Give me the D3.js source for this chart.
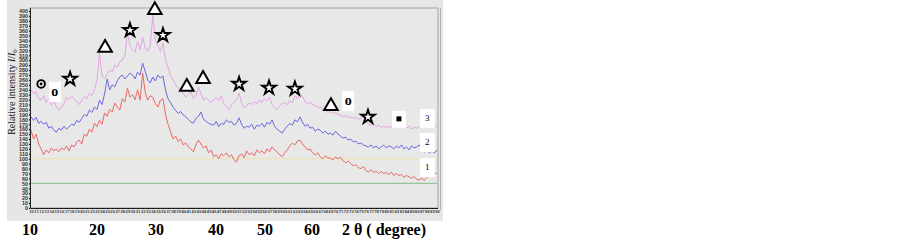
<!doctype html>
<html lang="en">
<head>
<meta charset="utf-8">
<script src="https://d3js.org/d3.v7.min.js"></script>
<style>
  body { margin: 0; background: #fff; }
  svg { display: block; }
</style>
</head>
<body>
<svg width="903" height="241"></svg>
<script>
// 2 theta scan grid, 0.5 degree step
var angles = d3.range(10, 90.01, 0.5);

// relative intensity, sample 1 (red)
var series1 = [
  158,140,150,130,120,108,118,112,122,116,
  120,114,122,118,126,116,128,124,134,138,
  130,150,146,160,154,172,165,178,170,193,
  186,200,195,213,205,199,222,215,243,225,
  230,220,240,219,274,235,219,228,225,212,
  205,219,222,190,170,155,140,146,135,140,
  128,132,124,120,114,128,138,130,122,126,
  112,118,104,108,100,110,106,112,104,108,
  98,93,106,110,102,116,108,112,106,118,
  112,116,110,120,114,124,118,114,108,104,
  112,118,126,132,128,136,138,130,124,118,
  120,112,108,112,104,100,106,102,101,98,
  104,100,103,96,92,95,90,86,88,82,
  80,84,76,73,78,72,75,70,74,70,
  72,68,73,66,70,66,68,62,66,63,
  60,64,58,57,61,56,62,66,64,70,
  71
];
// sample 2 (blue)
var series2 = [
  185,178,184,172,176,170,174,162,166,158,
  154,162,158,166,160,165,170,168,178,174,
  182,190,186,199,194,205,200,219,210,232,
  262,240,250,246,258,266,270,262,268,274,
  270,262,276,270,294,278,260,254,266,258,
  270,264,268,240,222,214,205,198,192,196,
  189,185,180,175,172,182,186,195,180,176,
  172,170,168,176,165,172,170,179,174,176,
  168,172,183,170,162,166,164,170,160,168,
  166,172,164,174,170,179,166,160,156,152,
  160,166,172,168,179,175,185,174,166,170,
  162,164,156,160,158,152,156,150,152,148,
  156,150,146,142,144,138,140,134,136,130,
  132,128,126,124,128,122,126,120,124,128,
  122,126,124,120,126,122,128,120,124,118,
  126,122,124,128,118,114,118,112,116,112,
  118
];
// sample 3 (pink)
var series3 = [
  240,232,236,222,219,228,214,222,208,216,
  206,199,204,212,225,220,228,222,216,210,
  219,226,222,233,228,240,260,314,268,262,
  272,280,276,290,286,297,300,310,355,330,
  321,316,338,322,347,325,318,330,392,341,
  330,318,335,300,286,268,260,250,244,236,
  233,225,230,236,222,228,246,232,219,224,
  218,214,220,224,219,228,212,206,199,210,
  214,220,233,212,204,208,213,210,216,212,
  220,214,222,218,225,210,204,200,208,212,
  214,210,218,214,228,222,233,226,216,212,
  214,210,208,204,205,200,198,194,196,192,
  194,190,188,186,188,184,185,182,184,180,
  182,188,178,170,168,170,166,168,164,166,
  163,166,164,168,162,166,164,168,162,166,
  160,164,162,165,168,170,166,164,168,166,
  165
];

var refLines = [100, 50];

// phase markers: [2theta, intensity, kind]
var markers = [
  [12.0, 252, "ring"], [14.7, 236, "o"], [17.7, 264, "star"],
  [24.6, 325, "tri"], [29.5, 363, "star"], [34.4, 402, "tri"],
  [36.0, 353, "star"], [40.7, 246, "tri"], [43.9, 262, "tri"],
  [51.0, 254, "star"], [56.9, 246, "star"], [62.0, 244, "star"],
  [69.1, 207, "tri"], [72.5, 217, "o"], [76.4, 187, "star"],
  [82.5, 181, "sq"]
];
// curve number labels: [2theta, intensity, text]
var curveLabels = [[88.0, 183, "3"], [88.0, 134, "2"], [88.0, 83, "1"]];

var bigLabels = ["10", "20", "30", "40", "50", "60"];

var svg = d3.select("svg");

var x = d3.scaleLinear().domain([10, 90]).range([31, 437]);
var y = d3.scaleLinear().domain([0, 400]).range([208, 11]);

// panel
svg.append("rect").attr("x", 7).attr("y", 0).attr("width", 436).attr("height", 221)
  .attr("fill", "#e6e6e6");
svg.append("rect").attr("x", 30).attr("y", 8).attr("width", 408).attr("height", 200)
  .attr("fill", "#e8e8e8").attr("stroke", "#a3a3a3").attr("stroke-width", 1);
svg.append("line").attr("x1", 440.5).attr("x2", 440.5).attr("y1", 8).attr("y2", 210)
  .attr("stroke", "#b0b0b0");

// reference lines
svg.selectAll(".ref").data(refLines).enter().append("line")
  .attr("x1", x(10)).attr("x2", x(90))
  .attr("y1", function(d){ return y(d); }).attr("y2", function(d){ return y(d); })
  .attr("stroke", function(d, i){ return i == 0 ? "#ece3a6" : "#98c498"; })
  .attr("stroke-width", 1.2);

// curves
var colors = ["#e86864", "#6868de", "#e4a4e4"];
var line = d3.line()
  .x(function(d, i){ return x(angles[i]); })
  .y(function(d){ return y(d); });
svg.selectAll(".curve").data([series1, series2, series3]).enter().append("path")
  .attr("d", line)
  .attr("fill", "none")
  .attr("stroke", function(d, i){ return colors[i]; })
  .attr("stroke-width", 1);

// axes
var yAxis = svg.append("g").attr("transform", "translate(30,0)")
  .call(d3.axisLeft(y).tickValues(d3.range(0, 401, 10)).tickSize(1).tickPadding(1));
yAxis.select(".domain").attr("stroke", "#222").attr("d", "M0.5,8V208.5");
yAxis.selectAll("text").attr("font-size", 5.4).attr("font-family", "Liberation Sans, Arial")
  .attr("font-weight", "bold").attr("fill", "#333");

var xAxis = svg.append("g").attr("transform", "translate(0,208)")
  .call(d3.axisBottom(x).tickValues(d3.range(10, 91, 1)).tickSize(1).tickPadding(1)
    .tickFormat(d3.format("d")));
xAxis.select(".domain").attr("stroke", "#222");
xAxis.selectAll("text").attr("font-size", 4.2).attr("font-family", "Liberation Sans, Arial")
  .attr("font-weight", "bold").attr("fill", "#444");

// y title
svg.append("text")
  .attr("transform", "translate(15,92) rotate(-90)")
  .attr("text-anchor", "middle")
  .attr("font-family", "Liberation Serif, Times New Roman, serif")
  .attr("font-size", 10)
  .attr("fill", "#111")
  .html('Relative intensity <tspan font-style="italic">I</tspan>/<tspan font-style="italic">I</tspan><tspan font-size="7" dy="2">0</tspan>');

// big bottom labels
var bigX = [30, 97, 156, 216, 265, 312];
svg.selectAll(".big").data(bigLabels).enter().append("text")
  .attr("x", function(d, i){ return bigX[i]; })
  .attr("y", 235)
  .attr("text-anchor", "middle")
  .attr("font-family", "Liberation Serif, Times New Roman, serif")
  .attr("font-weight", "bold")
  .attr("font-size", 16)
  .text(function(d){ return d; });
svg.append("text").attr("x", 342).attr("y", 235)
  .attr("font-family", "Liberation Serif, Times New Roman, serif")
  .attr("font-weight", "bold").attr("font-size", 16)
  .text("2 θ ( degree)");

// markers
var g = svg.append("g");
markers.forEach(function(m){
  var px = x(m[0]), py = y(m[1]);
  if (m[2] == "tri") {
    g.append("path").attr("d", d3.symbol().type(d3.symbolTriangle).size(80)())
      .attr("transform", "translate(" + px + "," + py + ")")
      .attr("fill", "#fff").attr("stroke", "#000").attr("stroke-width", 2);
  } else if (m[2] == "star") {
    g.append("path").attr("d", d3.symbol().type(d3.symbolStar).size(58)())
      .attr("transform", "translate(" + px + "," + (py + 1) + ")")
      .attr("fill", "#fff").attr("stroke", "#000").attr("stroke-width", 1.9);
  } else if (m[2] == "ring") {
    g.append("circle").attr("cx", px).attr("cy", py).attr("r", 3.8)
      .attr("fill", "none").attr("stroke", "#000").attr("stroke-width", 1.9);
    g.append("circle").attr("cx", px).attr("cy", py).attr("r", 1.4).attr("fill", "#000");
  } else if (m[2] == "o") {
    g.append("rect").attr("x", px - 6).attr("y", py - 10).attr("width", 12).attr("height", 20)
      .attr("fill", "#fff");
    g.append("text").attr("x", px).attr("y", py + 4).attr("text-anchor", "middle")
      .attr("font-family", "Liberation Serif, serif").attr("font-weight", "bold")
      .attr("font-size", 14).text("o");
  } else if (m[2] == "sq") {
    g.append("rect").attr("x", px - 7).attr("y", py - 8).attr("width", 14).attr("height", 17)
      .attr("fill", "#fff");
    g.append("rect").attr("x", px - 2.5).attr("y", py - 2.5).attr("width", 5).attr("height", 5)
      .attr("fill", "#000");
  }
});

curveLabels.forEach(function(c){
  var px = x(c[0]), py = y(c[1]);
  g.append("rect").attr("x", px - 7).attr("y", py - 9).attr("width", 15).attr("height", 19)
    .attr("fill", "#fff");
  g.append("text").attr("x", px + 0.5).attr("y", py + 3).attr("text-anchor", "middle")
    .attr("font-family", "Liberation Serif, serif").attr("font-size", 9).text(c[2]);
});
</script>
</body>
</html>
